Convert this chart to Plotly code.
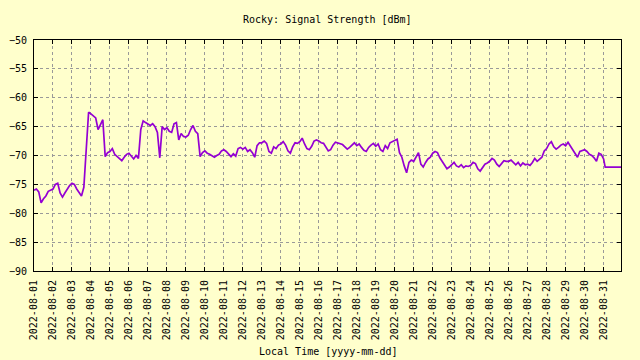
import pandas as pd
import plotly.graph_objects as go

# 3-hourly readings, one row per day (2022-08-01 .. 2022-08-30)
signal_dbm = [
    -76.0, -75.8, -76.3, -78.2, -77.5, -77.0, -76.2, -76.0,   # 08-01
    -75.8, -75.0, -74.8, -76.5, -77.2, -76.5, -75.8, -75.2,   # 08-02
    -74.8, -75.0, -75.8, -76.5, -77.0, -75.5, -69.6, -62.5,   # 08-03
    -62.8, -63.2, -63.5, -65.5, -64.5, -63.8, -70.2, -69.5,   # 08-04
    -69.3, -68.8, -69.8, -70.2, -70.6, -70.9, -70.3, -69.8,   # 08-05
    -69.6, -70.2, -70.6, -70.0, -70.5, -65.5, -64.0, -64.3,   # 08-06
    -64.6, -64.8, -64.5, -65.0, -66.0, -70.4, -65.0, -65.5,   # 08-07
    -65.2, -65.8, -66.0, -64.5, -64.3, -67.3, -66.2, -66.7,   # 08-08
    -66.8, -66.5, -65.5, -64.8, -65.8, -66.2, -70.2, -69.5,   # 08-09
    -69.2, -69.6, -69.8, -70.0, -70.3, -70.0, -69.8, -69.2,   # 08-10
    -69.0, -69.3, -69.8, -70.2, -69.7, -70.1, -68.8, -68.6,   # 08-11
    -68.9, -68.6, -69.3, -69.0, -69.5, -70.3, -68.3, -67.8,   # 08-12
    -67.8, -67.5, -67.9, -69.3, -69.6, -68.5, -68.8, -68.2,   # 08-13
    -68.0, -67.6, -68.2, -69.2, -69.6, -68.5, -67.8, -67.9,   # 08-14
    -67.6, -67.0, -68.0, -68.8, -69.0, -68.4, -67.5, -67.3,   # 08-15
    -67.5, -67.8, -67.9, -68.6, -69.2, -69.0, -68.2, -67.7,   # 08-16
    -67.8, -67.9, -68.1, -68.5, -68.9, -68.6, -68.2, -67.8,   # 08-17
    -68.3, -68.0, -68.6, -69.1, -69.3, -68.6, -68.2, -67.9,   # 08-18
    -68.4, -68.0, -69.0, -69.3, -68.3, -68.8, -67.8, -67.6,   # 08-19
    -67.5, -67.2, -69.5, -70.3, -71.8, -73.0, -71.2, -70.8,   # 08-20
    -71.0, -70.2, -69.5, -71.5, -72.0, -71.2, -70.6, -70.3,   # 08-21
    -69.6, -69.3, -69.5, -70.4, -71.0, -71.8, -72.3, -72.0,   # 08-22
    -71.5, -71.2, -71.8, -72.0, -71.6, -72.1, -71.8, -71.9,   # 08-23
    -71.7, -71.2, -71.4, -72.3, -72.7, -72.0, -71.5, -71.3,   # 08-24
    -71.0, -70.5, -70.8, -71.5, -71.9, -71.4, -70.9, -71.0,   # 08-25
    -71.0, -70.8, -71.3, -71.6, -71.2, -71.8, -71.3, -71.6,   # 08-26
    -71.5, -71.7, -71.2, -70.5, -71.0, -70.6, -70.3, -69.2,   # 08-27
    -68.8, -68.0, -67.6, -68.5, -68.9, -68.6, -68.2, -68.0,   # 08-28
    -68.3, -67.7, -68.4, -68.9, -69.8, -70.3, -69.3, -69.1,   # 08-29
    -69.0, -69.3, -69.8, -70.0, -70.4, -71.0, -69.6, -69.8,   # 08-30
]
tail_times = ["2022-08-31 00:00", "2022-08-31 02:00", "2022-08-31 22:00"]
tail_dbm = [-70.6, -72.0, -72.0]

times = list(pd.date_range("2022-08-01 00:00", periods=len(signal_dbm), freq="3h")) + \
        list(pd.to_datetime(tail_times))
values = signal_dbm + tail_dbm

title_text = "Rocky: Signal Strength [dBm]"
xaxis_text = "Local Time [yyyy-mm-dd]"
y_ticks = [-90, -85, -80, -75, -70, -65, -60, -55, -50]

BG = "#ffffcc"
FONT = "DejaVu Sans Mono"

fig = go.Figure()
fig.add_trace(go.Scatter(
    x=times, y=values, mode="lines",
    line=dict(color="#9400d3", width=1.7),
    hoverinfo="skip", showlegend=False,
))

axis_common = dict(
    showline=True, linecolor="black", linewidth=1, mirror="ticks",
    ticks="inside", ticklen=4, tickcolor="black", tickwidth=1,
    showgrid=True, gridcolor="#999999", griddash="3px,3px", gridwidth=1,
    zeroline=False, automargin=False,
    tickfont=dict(family=FONT, size=10, color="black"),
)

fig.update_xaxes(
    **axis_common,
    type="date",
    range=["2022-08-01 00:00", "2022-08-31 22:00"],
    tick0="2022-08-01", dtick=86400000,
    tickformat="%Y-%m-%d", tickangle=-90,
    ticklabelstandoff=4,
)
fig.update_yaxes(
    **axis_common,
    range=[-90, -50], tickvals=y_ticks,
    ticklabelstandoff=4,
)

plot_h = 360 - 40 - 89
fig.update_layout(
    width=640, height=360,
    margin=dict(l=34, r=19, t=40, b=89, autoexpand=False),
    paper_bgcolor=BG, plot_bgcolor=BG,
    font=dict(family=FONT, size=10, color="black"),
    annotations=[
        dict(text=title_text, xref="paper", yref="paper", x=0.5,
             y=1 + (40 - 19) / plot_h, xanchor="center", yanchor="middle",
             showarrow=False, font=dict(family=FONT, size=10, color="black")),
        dict(text=xaxis_text, xref="paper", yref="paper", x=0.5,
             y=-(351 - 271) / plot_h, xanchor="center", yanchor="middle",
             showarrow=False, font=dict(family=FONT, size=10, color="black")),
    ],
)

fig.write_html(
    "out.html",
    config={"displayModeBar": False},
    post_script="document.body.style.margin='0';document.body.style.background='%s';" % BG,
)
